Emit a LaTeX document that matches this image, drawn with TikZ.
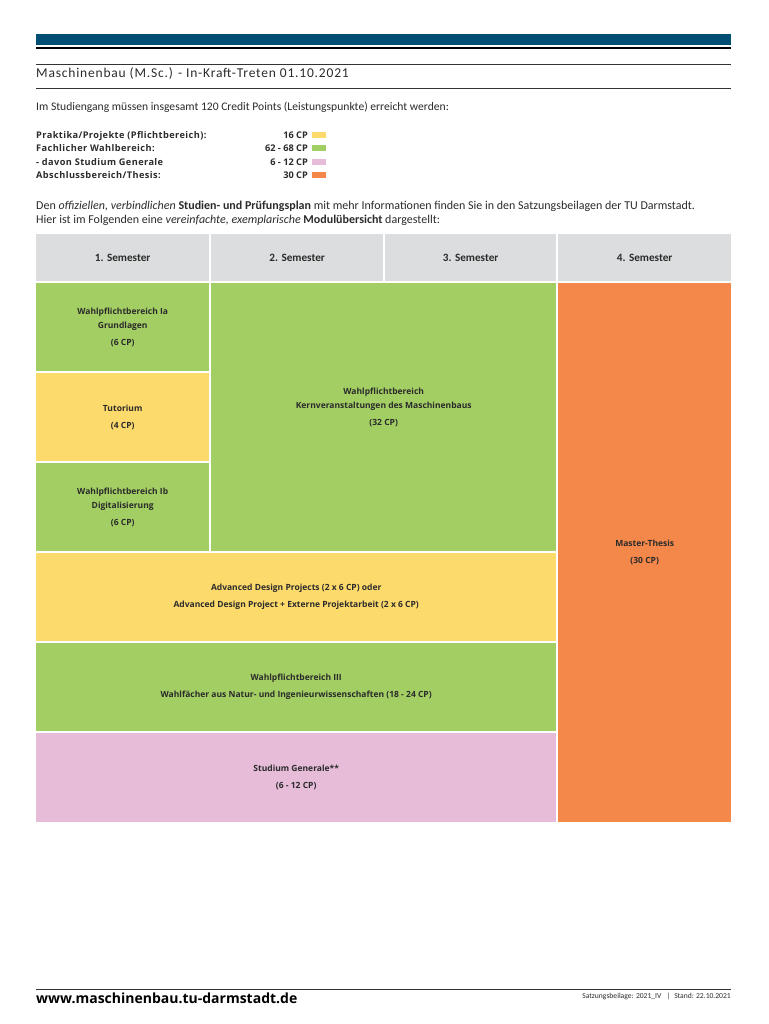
\documentclass[tikz,border=0pt]{standalone}
\usepackage{fontspec}
\setmainfont{Carlito}
\newfontfamily\osans{Open Sans}
\newfontfamily\osansls[LetterSpace=4.5]{Open Sans}
\newfontfamily\carlitols[LetterSpace=6]{Carlito}
\definecolor{tublue}{HTML}{004E73}
\definecolor{cgreen}{HTML}{A2CE64}
\definecolor{cyellow}{HTML}{FDDA6C}
\definecolor{corange}{HTML}{F4874A}
\definecolor{cpink}{HTML}{E6BCD9}
\definecolor{cgray}{HTML}{DCDDDE}
\definecolor{ctext}{HTML}{2B2B2B}
\tikzset{
  cellbox/.style={anchor=north west, inner sep=0pt, align=center, text=ctext,
    font=\osans\bfseries\fontsize{8.5}{14}\selectfont},
  headbox/.style={cellbox, fill=cgray, font=\bfseries\fontsize{11.2}{13}\selectfont},
  legtxt/.style={anchor=base west, inner sep=0pt, font=\osansls\bfseries\fontsize{9.2}{10}\selectfont, text=ctext},
  legcp/.style={anchor=base east, inner sep=0pt, font=\osans\bfseries\fontsize{9.2}{10}\selectfont, text=ctext},
  swatch/.style={anchor=south west, inner sep=0pt, minimum width=14pt, minimum height=6pt},
  body/.style={anchor=base west, inner sep=0pt, font=\fontsize{11.6}{13}\selectfont, text=ctext}
}
\begin{document}
\begin{tikzpicture}[x=1pt,y=-1pt]
\useasboundingbox[fill=white] (0,0) rectangle (768,1024);
% top bars
\fill[tublue] (36,34) rectangle (731,45);
\draw[black, line width=2pt] (36,48.5) -- (731,48.5);
\draw[black!80, line width=0.8pt] (36,64) -- (731,64);
\node[anchor=base west, inner sep=0pt, font=\carlitols\fontsize{13.5}{15}\selectfont, text=ctext] (title) at (36,78) {Maschinenbau (M.Sc.) - In-Kraft-Treten 01.10.2021};
\draw[black!80, line width=0.8pt] (36,88) -- (731,88);
% intro
\node[body] (intro) at (36,111) {Im Studiengang müssen insgesamt 120 Credit Points (Leistungspunkte) erreicht werden:};
% legend
\node[legtxt] (l1) at (36,138.5) {Praktika/Projekte (Pflichtbereich):};
\node[legtxt] (l2) at (36,152) {Fachlicher Wahlbereich:};
\node[legtxt] (l3) at (36,165.5) {- davon Studium Generale};
\node[legtxt] (l4) at (36,179) {Abschlussbereich/Thesis:};
\node[legcp] (c1) at (308,138.5) {16 CP};
\node[legcp] (c2) at (308,152) {62 - 68 CP};
\node[legcp] (c3) at (308,165.5) {6 - 12 CP};
\node[legcp] (c4) at (308,179) {30 CP};
\node[swatch, fill=cyellow] (s1) at (312,138) {};
\node[swatch, fill=cgreen] (s2) at (312,151.5) {};
\node[swatch, fill=cpink] (s3) at (312,165) {};
\node[swatch, fill=corange] (s4) at (312,178.5) {};
% description
\node[body, font=\fontsize{12}{13}\selectfont] (d1) at (36,210) {Den \textit{offiziellen, verbindlichen} \textbf{Studien- und Prüfungsplan} mit mehr Informationen finden Sie in den Satzungsbeilagen der TU Darmstadt.};
\node[body, font=\fontsize{12}{13}\selectfont] (d2) at (36,223.5) {Hier ist im Folgenden eine \textit{vereinfachte, exemplarische} \textbf{Modulübersicht} dargestellt:};
% header
\node[headbox, minimum width=173pt, minimum height=47pt] (h1) at (36,234) {1. Semester};
\node[headbox, minimum width=172pt, minimum height=47pt] (h2) at (211,234) {2. Semester};
\node[headbox, minimum width=171pt, minimum height=47pt] (h3) at (385,234) {3. Semester};
\node[headbox, minimum width=173pt, minimum height=47pt] (h4) at (558,234) {4. Semester};
% cells
\node[cellbox, fill=cgreen, minimum width=173pt, minimum height=88pt] (ia) at (36,283) {Wahlpflichtbereich Ia\\Grundlagen\\[3pt](6 CP)};
\node[cellbox, fill=cyellow, minimum width=173pt, minimum height=88pt] (tut) at (36,373) {Tutorium\\[3pt](4 CP)};
\node[cellbox, fill=cgreen, minimum width=173pt, minimum height=88pt] (ib) at (36,463) {Wahlpflichtbereich Ib\\Digitalisierung\\[3pt](6 CP)};
\node[cellbox, fill=cgreen, minimum width=345pt, minimum height=268pt] (kern) at (211,283) {};
\node[cellbox, anchor=center] (kernlbl) at ([yshift=9.5pt]kern.center) {Wahlpflichtbereich\\Kernveranstaltungen des Maschinenbaus\\[3pt](32 CP)};
\node[cellbox, fill=corange, minimum width=173pt, minimum height=539pt] (thesis) at (558,283) {Master-Thesis\\[3pt](30 CP)};
\node[cellbox, fill=cyellow, minimum width=520pt, minimum height=88pt] (adp) at (36,553) {Advanced Design Projects (2 x 6 CP) oder\\[3pt]Advanced Design Project + Externe Projektarbeit (2 x 6 CP)};
\node[cellbox, fill=cgreen, minimum width=520pt, minimum height=88pt] (iii) at (36,643) {Wahlpflichtbereich III\\[3pt]Wahlfächer aus Natur- und Ingenieurwissenschaften (18 - 24 CP)};
\node[cellbox, fill=cpink, minimum width=520pt, minimum height=89pt] (sg) at (36,733) {Studium Generale**\\[3pt](6 - 12 CP)};
% footer
\draw[black!80, line width=0.8pt] (36,989) -- (731,989);
\node[anchor=base west, inner sep=0pt, font=\osans\bfseries\fontsize{14}{16}\selectfont, text=black] (url) at (36,1003.5) {www.maschinenbau.tu-darmstadt.de};
\node[anchor=base east, inner sep=0pt, font=\fontsize{7.6}{8}\selectfont, text=ctext] (stand) at (731,998.5) {Satzungsbeilage: 2021\_IV \enspace|\enspace Stand: 22.10.2021};
\end{tikzpicture}
\end{document}
